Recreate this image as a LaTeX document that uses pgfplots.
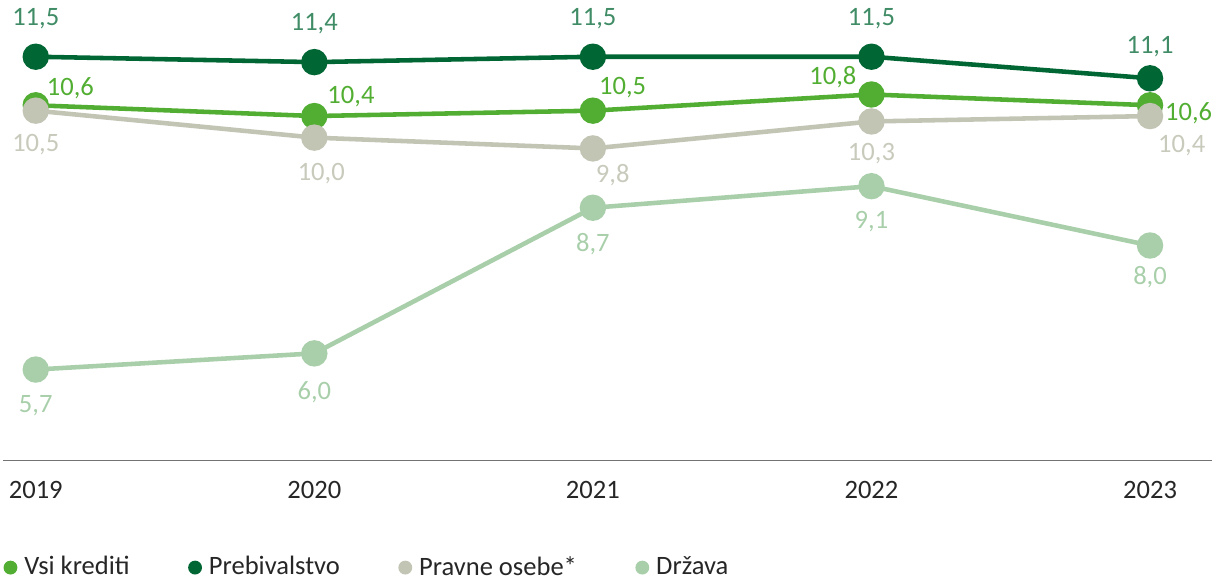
\documentclass[border=0pt]{standalone}
\usepackage{fontspec}
\setmainfont{Carlito}
\usepackage{pgfplots}
\pgfplotsset{compat=1.18}

\definecolor{vsi}{HTML}{52AE32}
\definecolor{preb}{HTML}{006633}
\definecolor{pravne}{HTML}{C2C4B4}
\definecolor{drzava}{HTML}{A8CFAA}
\definecolor{pravnetxt}{HTML}{C8CABC}

\begin{document}
\begin{tikzpicture}
\fontsize{13.4}{16}\selectfont
\begin{axis}[
    scale only axis,
    width=610.5pt, height=232pt,
    xmin=2018.883, xmax=2023.224,
    ymin=4.01, ymax=12.53,
    axis x line=bottom,
    axis y line=none,
    axis line style={-, draw=black!55, line width=0.8pt},
    xtick={2019,2020,2021,2022,2023},
    xticklabels={2019,2020,2021,2022,2023},
    major tick length=0pt,
    xticklabel style={anchor=center, yshift=-15pt, text=black!85},
    ticklabel style={font=\fontsize{13.4}{16}\selectfont},
    clip=false,
    every axis plot/.append style={line width=2.3pt, mark=*, mark size=5.5pt},
    legend columns=4,
    legend cell align=left,
    legend style={draw=none, fill=none, at={(0,0)}, anchor=north west,
        yshift=-46pt, xshift=0pt, inner sep=0pt,
        font=\fontsize{13.4}{16}\selectfont,
        nodes={inner xsep=3.5pt, text=black!85},
        /tikz/every even column/.append style={column sep=26pt}},
    legend image code/.code={\path[#1, mark=none, draw=none, fill] (3.5pt,0) circle (3.5pt);},
]
\addplot[color=vsi] coordinates {(2019,10.6)(2020,10.4)(2021,10.5)(2022,10.8)(2023,10.6)};
\addlegendentry{Vsi krediti}
\addplot[color=preb] coordinates {(2019,11.5)(2020,11.4)(2021,11.5)(2022,11.5)(2023,11.1)};
\addlegendentry{Prebivalstvo}
\addplot[color=pravne] coordinates {(2019,10.5)(2020,10.0)(2021,9.8)(2022,10.3)(2023,10.4)};
\addlegendentry{Pravne osebe*}
\addplot[color=drzava] coordinates {(2019,5.7)(2020,6.0)(2021,8.7)(2022,9.1)(2023,8.0)};
\addlegendentry{Država}

% Prebivalstvo labels
\begin{scope}[every node/.style={text=preb!75!white}]
\node[yshift=19pt] at (axis cs:2019,11.5) {11,5};
\node[yshift=19.5pt] at (axis cs:2020,11.4) {11,4};
\node[yshift=19pt] at (axis cs:2021,11.5) {11,5};
\node[yshift=19pt] at (axis cs:2022,11.5) {11,5};
\node[yshift=16pt] at (axis cs:2023,11.1) {11,1};
\end{scope}
% Vsi krediti labels
\begin{scope}[every node/.style={text=vsi}]
\node[xshift=17.5pt, yshift=8.5pt] at (axis cs:2019,10.6) {10,6};
\node[xshift=18.5pt, yshift=10pt] at (axis cs:2020,10.4) {10,4};
\node[xshift=15pt, yshift=11.5pt] at (axis cs:2021,10.5) {10,5};
\node[xshift=-19.5pt, yshift=9pt] at (axis cs:2022,10.8) {10,8};
\node[xshift=19.5pt, yshift=-4pt] at (axis cs:2023,10.6) {10,6};
\end{scope}
% Pravne osebe labels
\begin{scope}[every node/.style={text=pravnetxt}]
\node[yshift=-17pt] at (axis cs:2019,10.5) {10,5};
\node[xshift=3.5pt, yshift=-18pt] at (axis cs:2020,10.0) {10,0};
\node[xshift=10pt, yshift=-13.5pt] at (axis cs:2021,9.8) {9,8};
\node[yshift=-16pt] at (axis cs:2022,10.3) {10,3};
\node[xshift=16pt, yshift=-15pt] at (axis cs:2023,10.4) {10,4};
\end{scope}
% Država labels
\begin{scope}[every node/.style={text=drzava}]
\node[yshift=-18pt] at (axis cs:2019,5.7) {5,7};
\node[yshift=-19.5pt] at (axis cs:2020,6.0) {6,0};
\node[yshift=-18.5pt] at (axis cs:2021,8.7) {8,7};
\node[yshift=-18pt] at (axis cs:2022,9.1) {9,1};
\node[yshift=-16pt] at (axis cs:2023,8.0) {8,0};
\end{scope}
\end{axis}
\end{tikzpicture}
\end{document}
